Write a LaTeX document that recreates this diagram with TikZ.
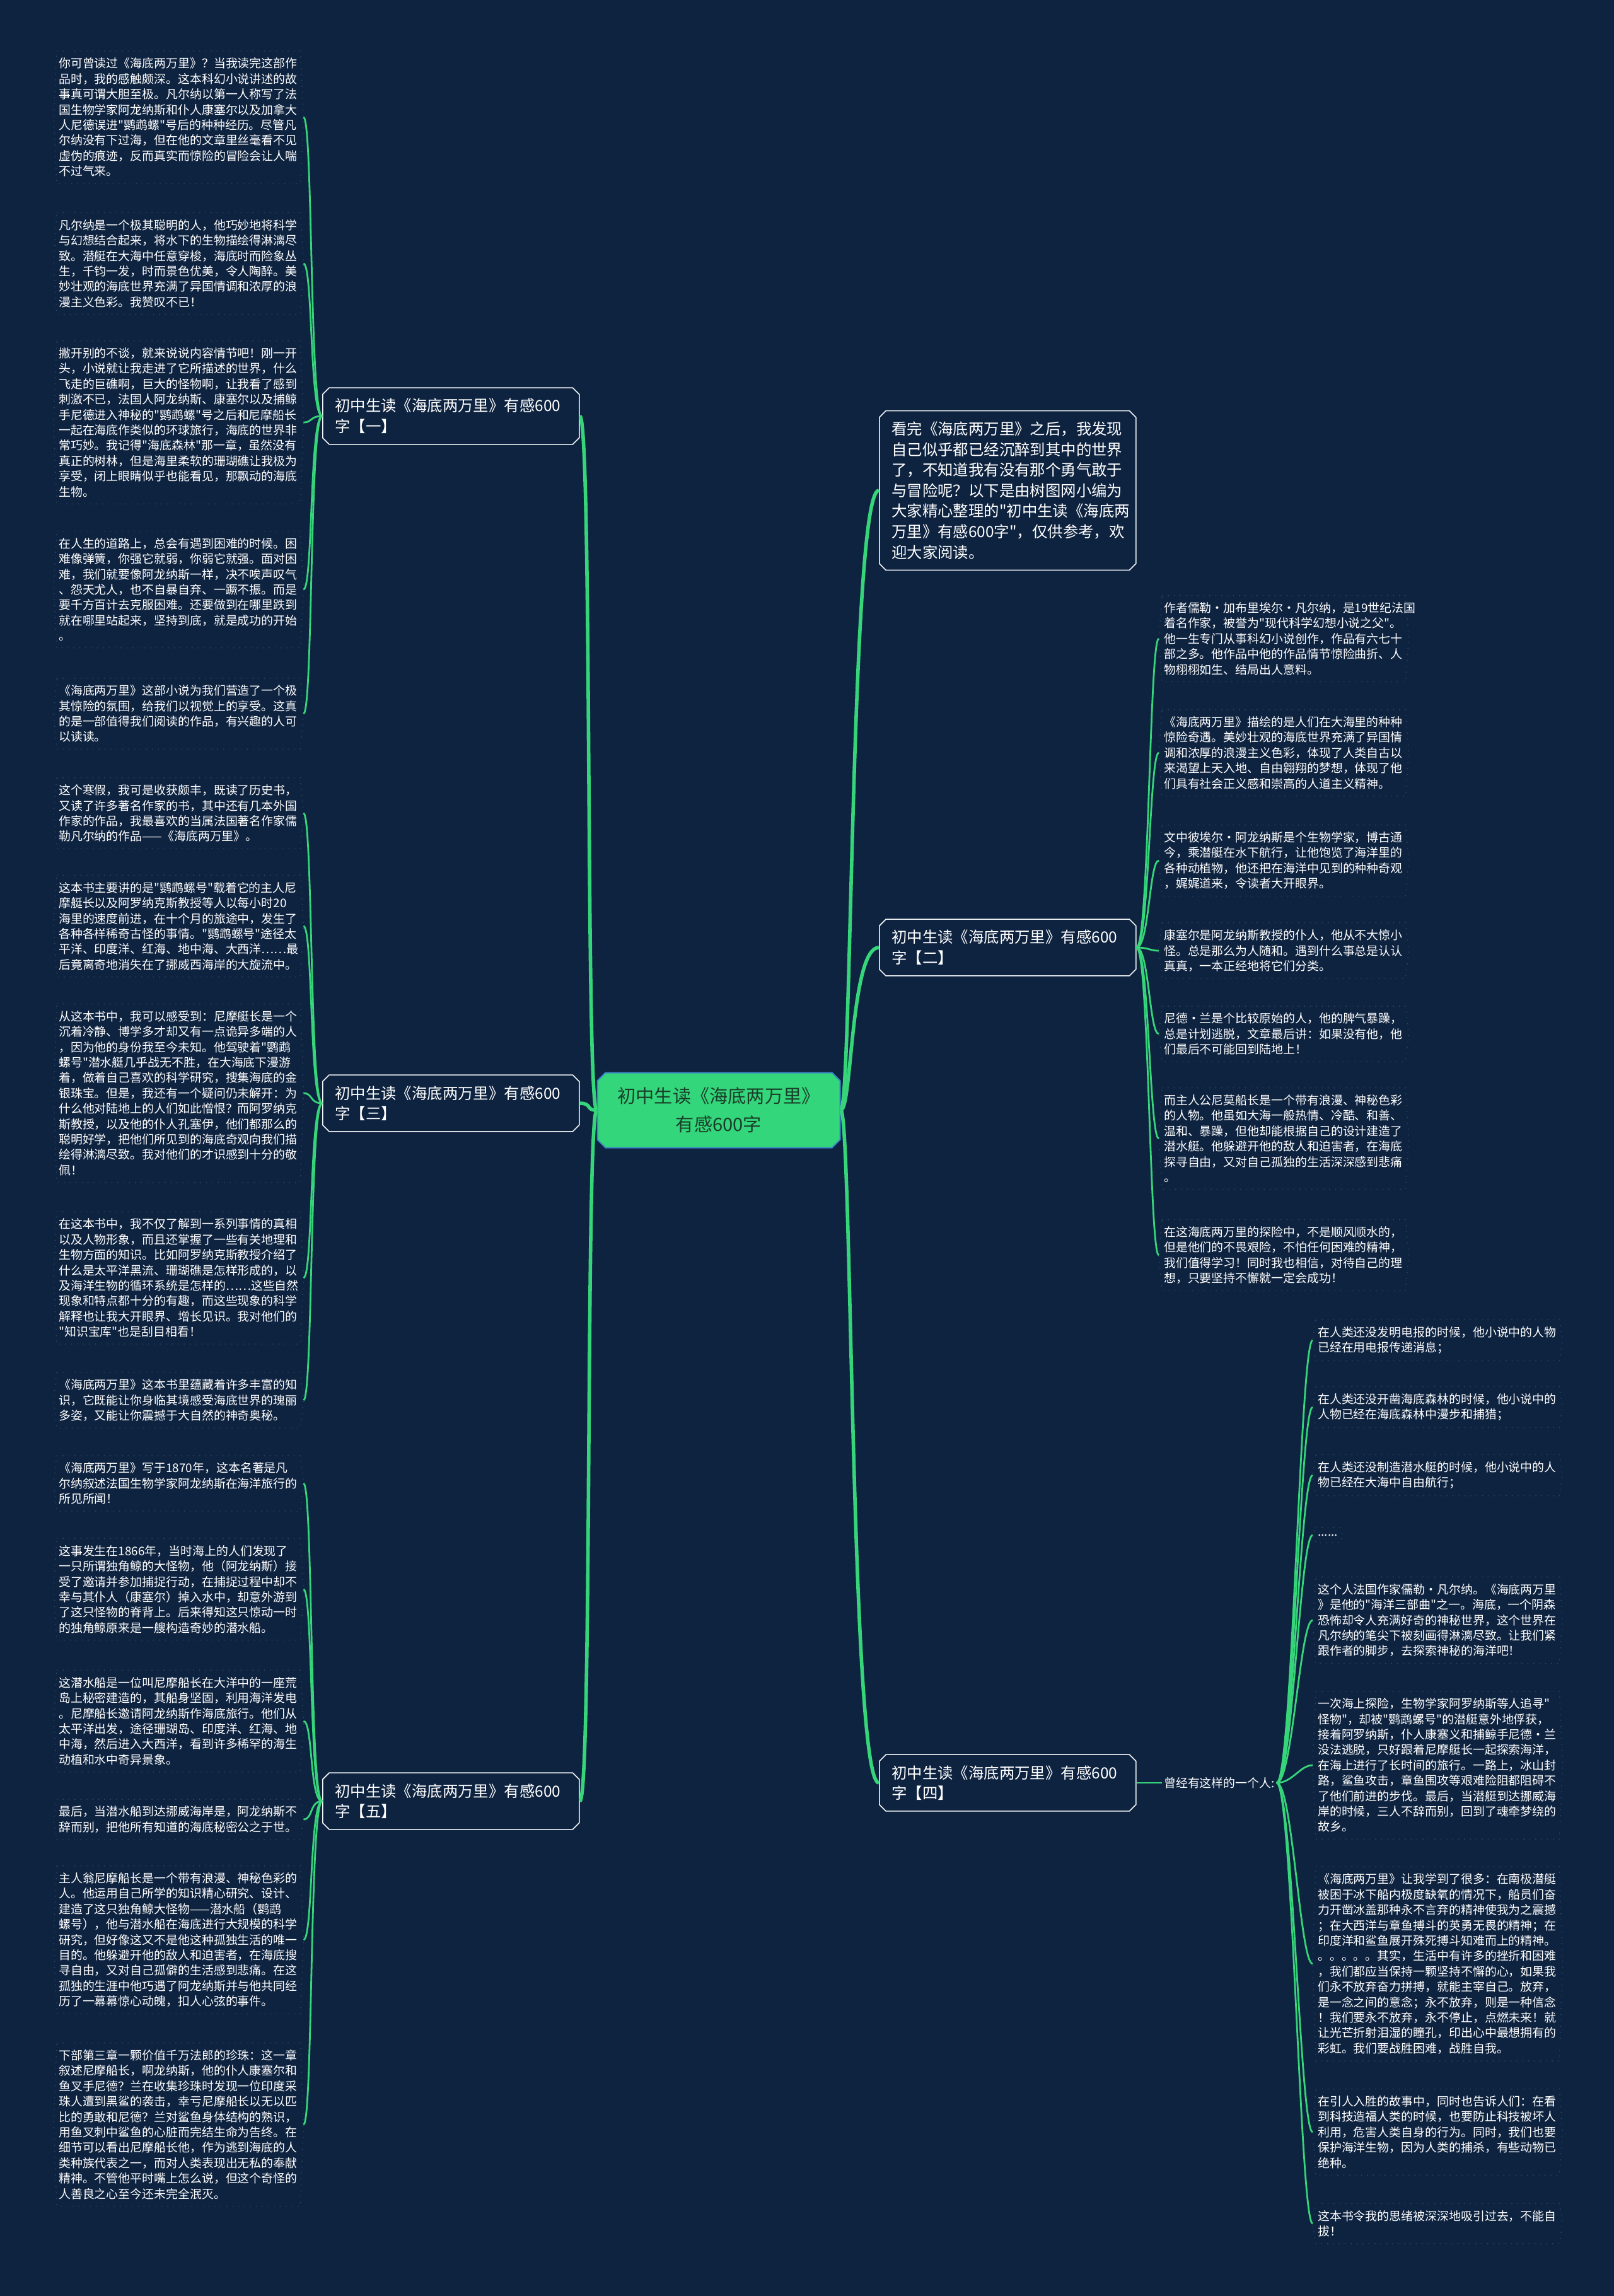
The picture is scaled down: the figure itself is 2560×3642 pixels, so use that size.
\documentclass[tikz,border=0pt]{standalone}
\usepackage{fontspec}
\setmainfont{Noto Sans CJK SC}[Ligatures=TeXOff]
\usetikzlibrary{shapes.misc}
\definecolor{bg}{HTML}{0E2340}
\definecolor{lgreen}{HTML}{36D57A}
\definecolor{cgreen}{HTML}{33D67A}
\definecolor{cborder}{HTML}{3A86C8}
\definecolor{boxline}{HTML}{F2F4F6}
\definecolor{dotline}{HTML}{2F4561}
\definecolor{ctext}{HTML}{1A3D2A}
\tikzset{
  leaf/.style={text=white, font=\fontsize{4.73pt}{6.1pt}\selectfont, text width=95pt, align=left, inner xsep=0.6pt, inner ysep=2.5pt, anchor=west},
  leafshort/.style={text=white, font=\fontsize{4.73pt}{6.1pt}\selectfont, align=left, inner xsep=0.6pt, inner ysep=2.5pt, anchor=west},
  branch/.style={chamfered rectangle, chamfered rectangle xsep=1.3pt, chamfered rectangle ysep=1.3pt, draw=boxline, line width=0.4pt, fill=bg, text=white, font=\fontsize{6.1pt}{8.15pt}\selectfont, text width=92pt, minimum width=101.75pt, align=left, inner xsep=3.4pt, inner ysep=3pt, anchor=west},
  centre/.style={chamfered rectangle, chamfered rectangle xsep=1.6pt, chamfered rectangle ysep=1.6pt, draw=cborder, line width=0.5pt, fill=cgreen, text=ctext, font=\fontsize{7.3pt}{11.2pt}\selectfont, align=center, minimum width=96.25pt, minimum height=29.75pt, inner sep=0.5pt},
  labeltext/.style={text=white, font=\fontsize{4.73pt}{6.1pt}\selectfont, inner xsep=0.6pt, anchor=west},
  leafborder/.style={draw=dotline, line width=0.35pt, dotted},
  mainline/.style={draw=lgreen, line width=1.4pt},
  leafline/.style={draw=lgreen, line width=0.7pt},
}
\begin{document}
\begin{tikzpicture}[x=0.25pt,y=-0.25pt]
\fill[bg] (0,0) rectangle (2560,3642);
\useasboundingbox (0,0) rectangle (2560,3642);

% centre and branches
\node[centre] (c) at (1140,1761) {初中生读《海底两万里》\\有感600字};
\node[branch] (b1) at (511,660) {初中生读《海底两万里》有感600\\字【一】};
\node[branch] (b3) at (511,1750) {初中生读《海底两万里》有感600\\字【三】};
\node[branch] (b5) at (511,2857) {初中生读《海底两万里》有感600\\字【五】};
\node[branch] (intro) at (1394,778) {看完《海底两万里》之后，我发现\\自己似乎都已经沉醉到其中的世界\\了，不知道我有没有那个勇气敢于\\与冒险呢？以下是由树图网小编为\\大家精心整理的"初中生读《海底两\\万里》有感600字"，仅供参考，欢\\迎大家阅读。};
\node[branch] (b2) at (1394,1503) {初中生读《海底两万里》有感600\\字【二】};
\node[branch] (b4) at (1394,2828) {初中生读《海底两万里》有感600\\字【四】};
\node[labeltext] (lab) at (1843,2828) {曾经有这样的一个人:};

% left leaves, group one
\node[leaf] (B1) at (90,186) {你可曾读过《海底两万里》？当我读完这部作\\品时，我的感触颇深。这本科幻小说讲述的故\\事真可谓大胆至极。凡尔纳以第一人称写了法\\国生物学家阿龙纳斯和仆人康塞尔以及加拿大\\人尼德误进"鹦鹉螺"号后的种种经历。尽管凡\\尔纳没有下过海，但在他的文章里丝毫看不见\\虚伪的痕迹，反而真实而惊险的冒险会让人喘\\不过气来。};
\node[leaf] (B2) at (90,418) {凡尔纳是一个极其聪明的人，他巧妙地将科学\\与幻想结合起来，将水下的生物描绘得淋漓尽\\致。潜艇在大海中任意穿梭，海底时而险象丛\\生，千钧一发，时而景色优美，令人陶醉。美\\妙壮观的海底世界充满了异国情调和浓厚的浪\\漫主义色彩。我赞叹不已！};
\node[leaf] (B3) at (90,670) {撇开别的不谈，就来说说内容情节吧！刚一开\\头，小说就让我走进了它所描述的世界，什么\\飞走的巨礁啊，巨大的怪物啊，让我看了感到\\刺激不已，法国人阿龙纳斯、康塞尔以及捕鲸\\手尼德进入神秘的"鹦鹉螺"号之后和尼摩船长\\一起在海底作类似的环球旅行，海底的世界非\\常巧妙。我记得"海底森林"那一章，虽然没有\\真正的树林，但是海里柔软的珊瑚礁让我极为\\享受，闭上眼睛似乎也能看见，那飘动的海底\\生物。};
\node[leaf] (B4) at (90,935) {在人生的道路上，总会有遇到困难的时候。困\\难像弹簧，你强它就弱，你弱它就强。面对困\\难，我们就要像阿龙纳斯一样，决不唉声叹气\\、怨天尤人，也不自暴自弃、一蹶不振。而是\\要千方百计去克服困难。还要做到在哪里跌到\\就在哪里站起来，坚持到底，就是成功的开始\\。};
\node[leaf] (B5) at (90,1132) {《海底两万里》这部小说为我们营造了一个极\\其惊险的氛围，给我们以视觉上的享受。这真\\的是一部值得我们阅读的作品，有兴趣的人可\\以读读。};

% group three
\node[leaf] (B6) at (90,1290) {这个寒假，我可是收获颇丰，既读了历史书，\\又读了许多著名作家的书，其中还有几本外国\\作家的作品，我最喜欢的当属法国著名作家儒\\勒凡尔纳的作品——《海底两万里》。};
\node[leaf] (B7) at (90,1469) {这本书主要讲的是"鹦鹉螺号"载着它的主人尼\\摩艇长以及阿罗纳克斯教授等人以每小时20\\海里的速度前进，在十个月的旅途中，发生了\\各种各样稀奇古怪的事情。"鹦鹉螺号"途径太\\平洋、印度洋、红海、地中海、大西洋……最\\后竟离奇地消失在了挪威西海岸的大旋流中。};
\node[leaf] (B8) at (90,1734) {从这本书中，我可以感受到：尼摩艇长是一个\\沉着冷静、博学多才却又有一点诡异多端的人\\，因为他的身份我至今未知。他驾驶着"鹦鹉\\螺号"潜水艇几乎战无不胜，在大海底下漫游\\着，做着自己喜欢的科学研究，搜集海底的金\\银珠宝。但是，我还有一个疑问仍未解开：为\\什么他对陆地上的人们如此憎恨？而阿罗纳克\\斯教授，以及他的仆人孔塞伊，他们都那么的\\聪明好学，把他们所见到的海底奇观向我们描\\绘得淋漓尽致。我对他们的才识感到十分的敬\\佩！};
\node[leaf] (B9) at (90,2027) {在这本书中，我不仅了解到一系列事情的真相\\以及人物形象，而且还掌握了一些有关地理和\\生物方面的知识。比如阿罗纳克斯教授介绍了\\什么是太平洋黑流、珊瑚礁是怎样形成的，以\\及海洋生物的循环系统是怎样的……这些自然\\现象和特点都十分的有趣，而这些现象的科学\\解释也让我大开眼界、增长见识。我对他们的\\"知识宝库"也是刮目相看！};
\node[leaf] (B10) at (90,2221) {《海底两万里》这本书里蕴藏着许多丰富的知\\识，它既能让你身临其境感受海底世界的瑰丽\\多姿，又能让你震撼于大自然的神奇奥秘。};

% group five
\node[leaf] (B11) at (90,2353) {《海底两万里》写于1870年，这本名著是凡\\尔纳叙述法国生物学家阿龙纳斯在海洋旅行的\\所见所闻！};
\node[leaf] (B12) at (90,2521) {这事发生在1866年，当时海上的人们发现了\\一只所谓独角鲸的大怪物，他（阿龙纳斯）接\\受了邀请并参加捕捉行动，在捕捉过程中却不\\幸与其仆人（康塞尔）掉入水中，却意外游到\\了这只怪物的脊背上。后来得知这只惊动一时\\的独角鲸原来是一艘构造奇妙的潜水船。};
\node[leaf] (B13) at (90,2730) {这潜水船是一位叫尼摩船长在大洋中的一座荒\\岛上秘密建造的，其船身坚固，利用海洋发电\\。尼摩船长邀请阿龙纳斯作海底旅行。他们从\\太平洋出发，途径珊瑚岛、印度洋、红海、地\\中海，然后进入大西洋，看到许多稀罕的海生\\动植和水中奇异景象。};
\node[leaf] (B14) at (90,2886) {最后，当潜水船到达挪威海岸是，阿龙纳斯不\\辞而别，把他所有知道的海底秘密公之于世。};
\node[leaf] (B15) at (90,3077) {主人翁尼摩船长是一个带有浪漫、神秘色彩的\\人。他运用自己所学的知识精心研究、设计、\\建造了这只独角鲸大怪物——潜水船（鹦鹉\\螺号），他与潜水船在海底进行大规模的科学\\研究，但好像这又不是他这种孤独生活的唯一\\目的。他躲避开他的敌人和迫害者，在海底搜\\寻自由，又对自己孤僻的生活感到悲痛。在这\\孤独的生涯中他巧遇了阿龙纳斯并与他共同经\\历了一幕幕惊心动魄，扣人心弦的事件。};
\node[leaf] (B16) at (90,3370) {下部第三章一颗价值千万法郎的珍珠：这一章\\叙述尼摩船长，啊龙纳斯，他的仆人康塞尔和\\鱼叉手尼德？兰在收集珍珠时发现一位印度采\\珠人遭到黑鲨的袭击，幸亏尼摩船长以无以匹\\比的勇敢和尼德？兰对鲨鱼身体结构的熟识，\\用鱼叉刺中鲨鱼的心脏而完结生命为告终。在\\细节可以看出尼摩船长他，作为逃到海底的人\\类种族代表之一，而对人类表现出无私的奉献\\精神。不管他平时嘴上怎么说，但这个奇怪的\\人善良之心至今还未完全泯灭。};

% group two
\node[leaf] (R1) at (1843,1013) {作者儒勒·加布里埃尔·凡尔纳，是19世纪法国\\着名作家，被誉为"现代科学幻想小说之父"。\\他一生专门从事科幻小说创作，作品有六七十\\部之多。他作品中他的作品情节惊险曲折、人\\物栩栩如生、结局出人意料。};
\node[leaf] (R2) at (1843,1194) {《海底两万里》描绘的是人们在大海里的种种\\惊险奇遇。美妙壮观的海底世界充满了异国情\\调和浓厚的浪漫主义色彩，体现了人类自古以\\来渴望上天入地、自由翱翔的梦想，体现了他\\们具有社会正义感和崇高的人道主义精神。};
\node[leaf] (R3) at (1843,1365) {文中彼埃尔·阿龙纳斯是个生物学家，博古通\\今，乘潜艇在水下航行，让他饱览了海洋里的\\各种动植物，他还把在海洋中见到的种种奇观\\，娓娓道来，令读者大开眼界。};
\node[leaf] (R4) at (1843,1508) {康塞尔是阿龙纳斯教授的仆人，他从不大惊小\\怪。总是那么为人随和。遇到什么事总是认认\\真真，一本正经地将它们分类。};
\node[leaf] (R5) at (1843,1640) {尼德·兰是个比较原始的人，他的脾气暴躁，\\总是计划逃脱，文章最后讲：如果没有他，他\\们最后不可能回到陆地上！};
\node[leaf] (R6) at (1843,1806) {而主人公尼莫船长是一个带有浪漫、神秘色彩\\的人物。他虽如大海一般热情、冷酷、和善、\\温和、暴躁，但他却能根据自己的设计建造了\\潜水艇。他躲避开他的敌人和迫害者，在海底\\探寻自由，又对自己孤独的生活深深感到悲痛\\。};
\node[leaf] (R7) at (1843,1991) {在这海底两万里的探险中，不是顺风顺水的，\\但是他们的不畏艰险，不怕任何困难的精神，\\我们值得学习！同时我也相信，对待自己的理\\想，只要坚持不懈就一定会成功！};

% group four
\node[leaf] (L1) at (2087,2126) {在人类还没发明电报的时候，他小说中的人物\\已经在用电报传递消息；};
\node[leaf] (L2) at (2087,2232) {在人类还没开凿海底森林的时候，他小说中的\\人物已经在海底森林中漫步和捕猎；};
\node[leaf] (L3) at (2087,2340) {在人类还没制造潜水艇的时候，他小说中的人\\物已经在大海中自由航行；};
\node[leafshort] (L4) at (2087,2435) {......};
\node[leaf] (L5) at (2087,2570) {这个人法国作家儒勒·凡尔纳。《海底两万里\\》是他的"海洋三部曲"之一。海底，一个阴森\\恐怖却令人充满好奇的神秘世界，这个世界在\\凡尔纳的笔尖下被刻画得淋漓尽致。让我们紧\\跟作者的脚步，去探索神秘的海洋吧！};
\node[leaf] (L6) at (2087,2800) {一次海上探险，生物学家阿罗纳斯等人追寻"\\怪物"，却被"鹦鹉螺号"的潜艇意外地俘获，\\接着阿罗纳斯，仆人康塞义和捕鲸手尼德·兰\\没法逃脱，只好跟着尼摩艇长一起探索海洋，\\在海上进行了长时间的旅行。一路上，冰山封\\路，鲨鱼攻击，章鱼围攻等艰难险阻都阻碍不\\了他们前进的步伐。最后，当潜艇到达挪威海\\岸的时候，三人不辞而别，回到了魂牵梦绕的\\故乡。};
\node[leaf] (L7) at (2087,3115) {《海底两万里》让我学到了很多：在南极潜艇\\被困于冰下船内极度缺氧的情况下，船员们奋\\力开凿冰盖那种永不言弃的精神使我为之震撼\\；在大西洋与章鱼搏斗的英勇无畏的精神；在\\印度洋和鲨鱼展开殊死搏斗知难而上的精神。\\。。。。。其实，生活中有许多的挫折和困难\\，我们都应当保持一颗坚持不懈的心，如果我\\们永不放弃奋力拼搏，就能主宰自己。放弃，\\是一念之间的意念；永不放弃，则是一种信念\\！我们要永不放弃，永不停止，点燃未来！就\\让光芒折射泪湿的瞳孔，印出心中最想拥有的\\彩虹。我们要战胜困难，战胜自我。};
\node[leaf] (L8) at (2087,3382) {在引人入胜的故事中，同时也告诉人们：在看\\到科技造福人类的时候，也要防止科技被坏人\\利用，危害人类自身的行为。同时，我们也要\\保护海洋生物，因为人类的捕杀，有些动物已\\绝种。};
\node[leaf] (L9) at (2087,3527) {这本书令我的思绪被深深地吸引过去，不能自\\拔！};

% leaf borders
\foreach \n in {B1,B2,B3,B4,B5,B6,B7,B8,B9,B10,B11,B12,B13,B14,B15,B16,R1,R2,R3,R4,R5,R6,R7,L1,L2,L3,L4,L5,L6,L7,L8,L9}
  \draw[leafborder] (\n.north west) -- (\n.north east) -- ([xshift=1.25pt]\n.east) -- (\n.south east) -- (\n.south west) -- ([xshift=-1.25pt]\n.west) -- cycle;

% main connectors
\foreach \n in {b1,b3,b5}
  \draw[mainline] (c.west) .. controls +(-18,0) and +(20,0) .. (\n.east);
\foreach \n in {intro,b2,b4}
  \draw[mainline] (c.east) .. controls +(18,0) and +(-45,0) .. (\n.west);

% leaf connectors
\foreach \n in {B1,B2,B3,B4,B5}
  \draw[leafline] (b1.west) .. controls +(-20,0) and +(15,0) .. ([xshift=1.25pt]\n.east);
\foreach \n in {B6,B7,B8,B9,B10}
  \draw[leafline] (b3.west) .. controls +(-20,0) and +(15,0) .. ([xshift=1.25pt]\n.east);
\foreach \n in {B11,B12,B13,B14,B15,B16}
  \draw[leafline] (b5.west) .. controls +(-20,0) and +(15,0) .. ([xshift=1.25pt]\n.east);
\foreach \n in {R1,R2,R3,R4,R5,R6,R7}
  \draw[leafline] (b2.east) .. controls +(20,0) and +(-15,0) .. ([xshift=-1.25pt]\n.west);
\draw[leafline] (b4.east) -- (lab.west);
\foreach \n in {L1,L2,L3,L4,L5,L6,L7,L8,L9}
  \draw[leafline] (lab.east) .. controls +(25,0) and +(-20,0) .. ([xshift=-1.25pt]\n.west);
\end{tikzpicture}
\end{document}
